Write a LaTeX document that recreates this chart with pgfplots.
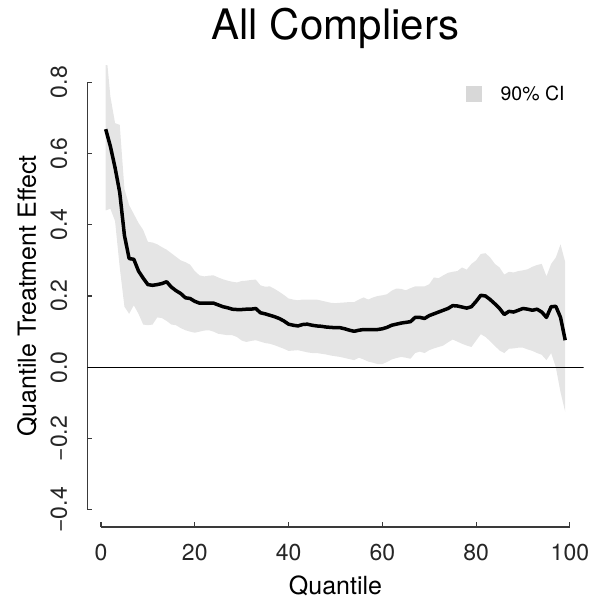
\documentclass[border=0pt]{standalone}
\usepackage{fontspec}
\setmainfont{TeX Gyre Heros}
\usepackage{pgfplots}
\usepackage{pgfplotstable}
\usepgfplotslibrary{fillbetween}
\pgfplotsset{compat=1.18}
\definecolor{band}{HTML}{E5E5E5}
\definecolor{keysq}{HTML}{D8D8D8}
\definecolor{axgray}{HTML}{3A3A3A}

% quantile, estimate, lower and upper 90% bound
\pgfplotstableread{
q est lo hi
1 0.668 0.440 0.900
2 0.620 0.445 0.760
3 0.560 0.410 0.685
4 0.490 0.280 0.680
5 0.370 0.170 0.500
6 0.305 0.150 0.455
7 0.303 0.174 0.430
8 0.270 0.150 0.405
9 0.250 0.120 0.385
10 0.232 0.118 0.352
11 0.230 0.120 0.350
12 0.232 0.140 0.345
13 0.235 0.138 0.337
14 0.240 0.130 0.330
15 0.225 0.120 0.320
16 0.215 0.118 0.310
17 0.207 0.110 0.300
18 0.195 0.104 0.295
19 0.193 0.100 0.288
20 0.185 0.097 0.270
21 0.180 0.100 0.258
22 0.180 0.103 0.255
23 0.180 0.104 0.257
24 0.180 0.100 0.258
25 0.175 0.094 0.252
26 0.170 0.092 0.247
27 0.167 0.090 0.243
28 0.163 0.090 0.240
29 0.162 0.085 0.238
30 0.162 0.075 0.242
31 0.163 0.071 0.243
32 0.163 0.074 0.245
33 0.165 0.076 0.246
34 0.153 0.072 0.230
35 0.150 0.068 0.226
36 0.146 0.066 0.227
37 0.142 0.062 0.220
38 0.137 0.057 0.212
39 0.130 0.052 0.203
40 0.121 0.046 0.193
41 0.118 0.047 0.190
42 0.116 0.048 0.188
43 0.120 0.045 0.190
44 0.121 0.042 0.190
45 0.118 0.040 0.190
46 0.116 0.040 0.190
47 0.115 0.038 0.187
48 0.113 0.036 0.184
49 0.112 0.033 0.181
50 0.111 0.031 0.180
51 0.111 0.029 0.181
52 0.108 0.026 0.182
53 0.104 0.023 0.183
54 0.101 0.020 0.183
55 0.104 0.027 0.190
56 0.106 0.022 0.196
57 0.106 0.016 0.190
58 0.106 0.013 0.196
59 0.106 0.009 0.200
60 0.108 0.009 0.202
61 0.112 0.015 0.205
62 0.118 0.022 0.215
63 0.121 0.026 0.221
64 0.124 0.029 0.220
65 0.126 0.027 0.216
66 0.128 0.024 0.222
67 0.140 0.040 0.227
68 0.140 0.044 0.227
69 0.137 0.040 0.227
70 0.145 0.048 0.233
71 0.150 0.053 0.252
72 0.155 0.057 0.250
73 0.160 0.061 0.258
74 0.165 0.070 0.265
75 0.173 0.078 0.268
76 0.172 0.072 0.270
77 0.169 0.066 0.280
78 0.166 0.061 0.274
79 0.170 0.057 0.290
80 0.185 0.075 0.300
81 0.202 0.093 0.318
82 0.200 0.085 0.320
83 0.190 0.073 0.308
84 0.178 0.060 0.290
85 0.165 0.047 0.280
86 0.148 0.040 0.260
87 0.157 0.052 0.268
88 0.155 0.053 0.266
89 0.160 0.055 0.270
90 0.165 0.055 0.272
91 0.163 0.050 0.275
92 0.160 0.046 0.282
93 0.163 0.040 0.287
94 0.155 0.035 0.290
95 0.140 0.020 0.255
96 0.170 0.040 0.290
97 0.171 0.000 0.308
98 0.140 -0.070 0.345
99 0.076 -0.125 0.295
}\qte

\begin{document}
\begin{tikzpicture}
\begin{axis}[
    at={(0pt,0pt)}, anchor=south west,
    scale only axis,
    width=496.3pt, height=462pt,
    xmin=-2.92, xmax=102.92,
    ymin=-0.448, ymax=0.848,
    axis x line*=bottom, axis y line*=left,
    x axis line style={-, axgray, line width=1.1pt, shorten <=13.7pt, shorten >=13.7pt},
    y axis line style={-, axgray, line width=1.1pt, shorten <=17.1pt, shorten >=17.1pt},
    xtick={0,20,40,60,80,100},
    xticklabels={0,20,40,60,80,100},
    ytick={-0.4,-0.2,0,0.2,0.4,0.6,0.8},
    yticklabels={−0.4,−0.2,0.0,0.2,0.4,0.6,0.8},
    tick align=inside,
    major tick length=5pt,
    tick style={axgray, line width=1.1pt},
    ticklabel style={font=\fontsize{23}{27}\selectfont, text=black!85},
    xticklabel style={anchor=base, yshift=-33pt},
    yticklabel style={xshift=-20.3pt, rotate=90, anchor=base},
    title={All Compliers},
    title style={font=\fontsize{42}{48}\selectfont, at={(axis description cs:0.5,1)}, anchor=base, yshift=20pt},
    xlabel={Quantile},
    xlabel style={font=\fontsize{25}{30}\selectfont, at={(axis description cs:0.5,0)}, anchor=base, yshift=-67pt},
    every axis y label/.style={at={(axis description cs:0,0.5)}, xshift=-51.3pt, rotate=90, anchor=base, font=\fontsize{25}{30}\selectfont},
    ylabel={Quantile Treatment Effect},
    legend style={draw=none, fill=none, at={(axis description cs:0.763,0.938)}, anchor=west,
        inner sep=0pt, font=\fontsize{19.5}{22}\selectfont, column sep=19pt, nodes={inner sep=0pt}},
]
\addplot[draw=none, name path=up, forget plot] table[x=q, y=hi] {\qte};
\addplot[draw=none, name path=dn, forget plot] table[x=q, y=lo] {\qte};
\addplot[band, draw=none, forget plot] fill between[of=up and dn];
\addplot[black, line width=1.2pt, forget plot] coordinates {(-2.92,0) (102.92,0)};
\addplot[black, line width=3.5pt, line join=round, forget plot] table[x=q, y=est] {\qte};
\addlegendimage{legend image code/.code={\fill[keysq] (0pt,-7pt) rectangle (15pt,8pt);}}
\addlegendentry{90\% CI}
\end{axis}
\path (-87.3pt,-73pt) rectangle (503.7pt,527pt);
\end{tikzpicture}
\end{document}
